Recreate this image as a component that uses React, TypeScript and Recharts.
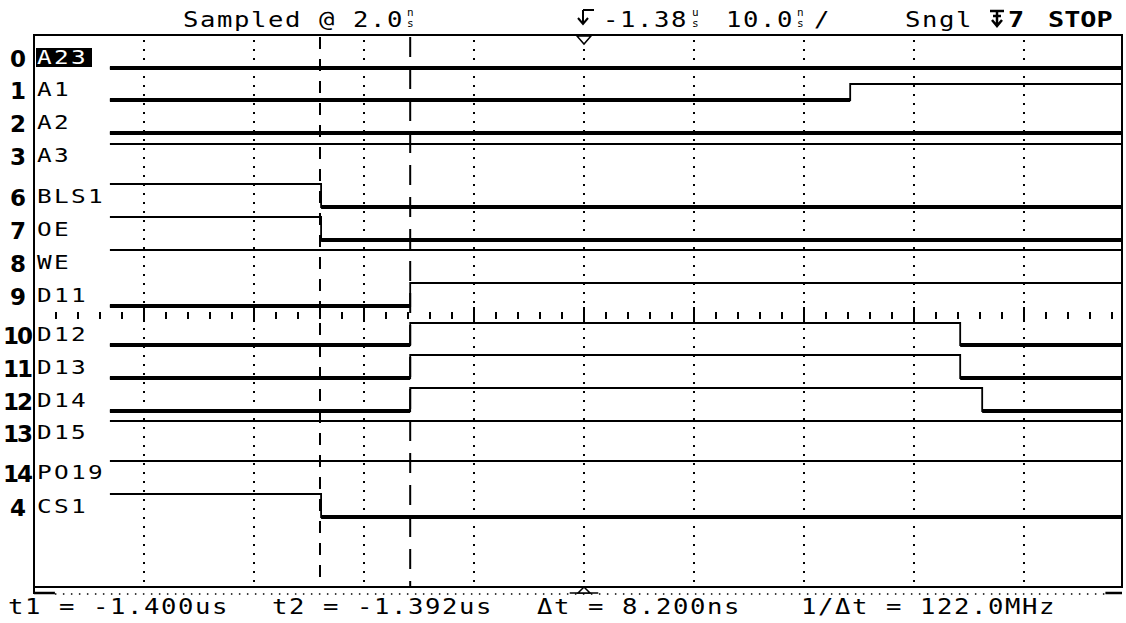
import React from 'react';
import { ComposedChart, Line, XAxis, YAxis, ReferenceLine, ReferenceArea, ReferenceDot } from 'recharts';

const W = 1126;
const H = 623;

// time axis in ns, 10 ns per division
const T_LEFT = -1426;
const T_RIGHT = -1327.09;
const TRACE_START = -1419.1;
const gridTimes = [-1416, -1406, -1396, -1386, -1376, -1366, -1356, -1346, -1336];
const rulerTimes = Array.from({ length: 49 }, (_, i) => -1424 + 2 * i);
const cursorT1 = -1400.0;
const cursorT2 = -1391.8;
const triggerT = -1376;

// channels, top to bottom
const channelNumbers = ['0', '1', '2', '3', '6', '7', '8', '9', '10', '11', '12', '13', '14', '4'];
const channelNames = ['A23', 'A1', 'A2', 'A3', 'BLS1', 'OE', 'WE', 'D11', 'D12', 'D13', 'D14', 'D15', 'PO19', 'CS1'];

// level changes: [time ns, level] (0 = low, 1 = high)
const levelsA23 = [[TRACE_START, 0]];
const levelsA1 = [[TRACE_START, 0], [-1351.8, 1]];
const levelsA2 = [[TRACE_START, 0]];
const levelsA3 = [[TRACE_START, 1]];
const levelsBLS1 = [[TRACE_START, 1], [-1399.9, 0]];
const levelsOE = [[TRACE_START, 1], [-1399.9, 0]];
const levelsWE = [[TRACE_START, 1]];
const levelsD11 = [[TRACE_START, 0], [-1391.8, 1]];
const levelsD12 = [[TRACE_START, 0], [-1391.8, 1], [-1341.8, 0]];
const levelsD13 = [[TRACE_START, 0], [-1391.8, 1], [-1341.8, 0]];
const levelsD14 = [[TRACE_START, 0], [-1391.8, 1], [-1339.8, 0]];
const levelsD15 = [[TRACE_START, 1]];
const levelsPO19 = [[TRACE_START, 1]];
const levelsCS1 = [[TRACE_START, 1], [-1399.9, 0]];

const channelLevels = [
  levelsA23, levelsA1, levelsA2, levelsA3, levelsBLS1, levelsOE, levelsWE,
  levelsD11, levelsD12, levelsD13, levelsD14, levelsD15, levelsPO19, levelsCS1,
];

// screen rows of each lane (low / high level); y axis runs top to bottom
const laneLow = [68, 100, 133, 166, 207, 240, 273, 306, 345, 378, 411, 443, 483, 517];
const laneHigh = [46, 84, 111, 144, 184, 217, 250, 283, 323, 355, 388, 421, 461, 494];
const Y_TOP = 35;
const Y_FRAME = 587;
const Y_BOTTOM = 600;
const RULER_Y = 316;

const MONO = 'DejaVu Sans Mono';
const SX = 1.22;

const traces = channelLevels.map((lv, i) => {
  const low = laneLow[i];
  const high = laneHigh[i];
  const pts: { t: number; y: number | null }[] = lv.map(([t, v]) => ({ t, y: v ? high : low }));
  pts.push({ t: T_RIGHT, y: pts[pts.length - 1].y });
  const thick: { t: number; y: number | null }[] = [];
  lv.forEach(([t, v], k) => {
    if (v) return;
    const tEnd = k + 1 < lv.length ? lv[k + 1][0] : T_RIGHT;
    thick.push({ t, y: low }, { t: tEnd, y: low }, { t: tEnd, y: null });
  });
  return { pts, thick };
});

const MonoText = ({ x, y, size = 21, ls = 1.3, bold = false, fill = '#000', children }: any) => (
  <text
    transform={`translate(${x},${y}) scale(${SX},1)`}
    fontFamily={MONO}
    fontSize={size}
    letterSpacing={ls}
    fontWeight={bold ? 'bold' : 'normal'}
    fill={fill}
  >
    {children}
  </text>
);

const LaneTick = (props: any) => {
  const { y, payload } = props;
  const i = laneLow.indexOf(payload.value);
  if (i < 0) return null;
  const selected = i === 0;
  return (
    <g>
      <text x={17} y={y - 1} textAnchor="middle" fontFamily="DejaVu Sans" fontWeight="bold" fontSize={23} letterSpacing={-2} fill="#000">
        {channelNumbers[i]}
      </text>
      {selected && <rect x={36} y={y - 20} width={56} height={19} fill="#000" />}
      <MonoText x={37} y={y - 4} size={20} ls={1.9} fill={selected ? '#fff' : '#000'}>
        {channelNames[i]}
      </MonoText>
    </g>
  );
};

// small unit letters stacked over "s", as the scope draws them
const Stack = ({ x, top }: { x: number; top: string }) => (
  <text fontFamily={MONO} fontSize={11}>
    <tspan x={x} y={16}>{top}</tspan>
    <tspan x={x} y={27}>s</tspan>
  </text>
);

const Header = () => (
  <svg width={W} height={H} style={{ position: 'absolute', left: 0, top: 0, pointerEvents: 'none' }}>
    <MonoText x={183} y={27}>Sampled @ 2.0</MonoText>
    <MonoText x={603} y={27}>-1.38</MonoText>
    <MonoText x={726} y={27}>10.0</MonoText>
    <MonoText x={814} y={27}>/</MonoText>
    <MonoText x={905} y={27}>Sngl</MonoText>
    <Stack x={407} top="n" />
    <Stack x={692} top="u" />
    <Stack x={797} top="n" />
    <path d="M583,10 H594 M583,10 V24 M578,18 L583,24 L588,18" stroke="#000" strokeWidth={2} fill="none" />
    <path d="M990,11 H1004 M997,11 V26 M992,20 L997,26 L1002,20 M993,16 H1001" stroke="#000" strokeWidth={2.5} fill="none" />
    <MonoText x={1008} y={27} size={22} ls={0} bold>7</MonoText>
    <MonoText x={1048} y={27} size={22} ls={0} bold>STOP</MonoText>
    <MonoText x={8} y={614}>t1 = -1.400us</MonoText>
    <MonoText x={272} y={614}>t2 = -1.392us</MonoText>
    <MonoText x={537} y={614}>Δt = 8.200ns</MonoText>
    <MonoText x={801} y={614}>1/Δt = 122.0MHz</MonoText>
  </svg>
);

const App: React.FC = () => {
  return (
    <div style={{ position: 'absolute', left: 0, top: 0, width: W, height: H, background: '#fff' }}>
      <ComposedChart width={W} height={H} margin={{ top: Y_TOP, right: 4, bottom: H - Y_BOTTOM, left: 0 }}>
        <XAxis type="number" dataKey="t" domain={[T_LEFT, T_RIGHT]} allowDataOverflow hide />
        <YAxis
          type="number"
          domain={[Y_TOP, Y_BOTTOM]}
          reversed
          allowDataOverflow
          width={34}
          ticks={laneLow}
          interval={0}
          axisLine={false}
          tickLine={false}
          tick={<LaneTick />}
        />
        <ReferenceArea x1={T_LEFT} x2={T_RIGHT} y1={Y_TOP} y2={Y_FRAME} fill="none" stroke="#000" strokeWidth={2} ifOverflow="visible" />
        {gridTimes.map((t) => (
          <ReferenceLine key={`g${t}`} segment={[{ x: t, y: Y_TOP + 5 }, { x: t, y: Y_FRAME - 2 }]} stroke="#000" strokeWidth={2} strokeDasharray="2 7" ifOverflow="visible" />
        ))}
        {rulerTimes.map((t) => {
          const major = gridTimes.includes(t);
          return (
            <ReferenceLine
              key={`r${t}`}
              segment={[{ x: t, y: major ? RULER_Y - 9 : RULER_Y - 4 }, { x: t, y: major ? RULER_Y + 6 : RULER_Y + 3 }]}
              stroke="#000"
              strokeWidth={2}
              ifOverflow="visible"
            />
          );
        })}
        <ReferenceLine stroke="#000" strokeWidth={2} strokeDasharray="12 10" segment={[{ x: cursorT1, y: Y_TOP + 2 }, { x: cursorT1, y: Y_FRAME }]} ifOverflow="visible" />
        <ReferenceLine stroke="#000" strokeWidth={2} strokeDasharray="20 12" segment={[{ x: cursorT2, y: Y_TOP + 2 }, { x: cursorT2, y: Y_FRAME }]} ifOverflow="visible" />
        {traces.map((tr, i) => (
          <Line key={`h${i}`} data={tr.pts} dataKey="y" type="stepAfter" stroke="#000" strokeWidth={1.8} dot={false} isAnimationActive={false} />
        ))}
        {traces.map((tr, i) => (
          <Line key={`l${i}`} data={tr.thick} dataKey="y" type="linear" stroke="#000" strokeWidth={4} dot={false} isAnimationActive={false} />
        ))}
        <ReferenceLine segment={[{ x: T_LEFT, y: Y_FRAME }, { x: T_LEFT, y: 594 }]} stroke="#000" strokeWidth={2} ifOverflow="visible" />
        <ReferenceLine segment={[{ x: T_LEFT, y: 593 }, { x: -1424.1, y: 593 }]} stroke="#000" strokeWidth={2.5} ifOverflow="visible" />
        <ReferenceLine segment={[{ x: -1424.1, y: 594 }, { x: -1328.6, y: 594 }]} stroke="#000" strokeWidth={1.5} strokeDasharray="1.5 6.5" ifOverflow="visible" />
        <ReferenceLine segment={[{ x: -1328.6, y: 593 }, { x: T_RIGHT, y: 593 }]} stroke="#000" strokeWidth={2.5} ifOverflow="visible" />
        <ReferenceLine segment={[{ x: triggerT - 1.3, y: 593 }, { x: triggerT + 1.3, y: 593 }]} stroke="#000" strokeWidth={1.5} ifOverflow="visible" />
        <ReferenceDot
          x={triggerT}
          y={Y_TOP}
          ifOverflow="visible"
          shape={(p: any) => <path d={`M${p.cx - 7},${p.cy + 1} L${p.cx + 7},${p.cy + 1} L${p.cx},${p.cy + 9} Z`} fill="#fff" stroke="#000" strokeWidth={1.5} />}
        />
        <ReferenceDot
          x={triggerT}
          y={593}
          ifOverflow="visible"
          shape={(p: any) => <path d={`M${p.cx - 6},${p.cy} L${p.cx + 6},${p.cy} L${p.cx},${p.cy - 6} Z`} fill="#fff" stroke="#000" strokeWidth={1.5} />}
        />
      </ComposedChart>
      <Header />
    </div>
  );
};

export default App;
